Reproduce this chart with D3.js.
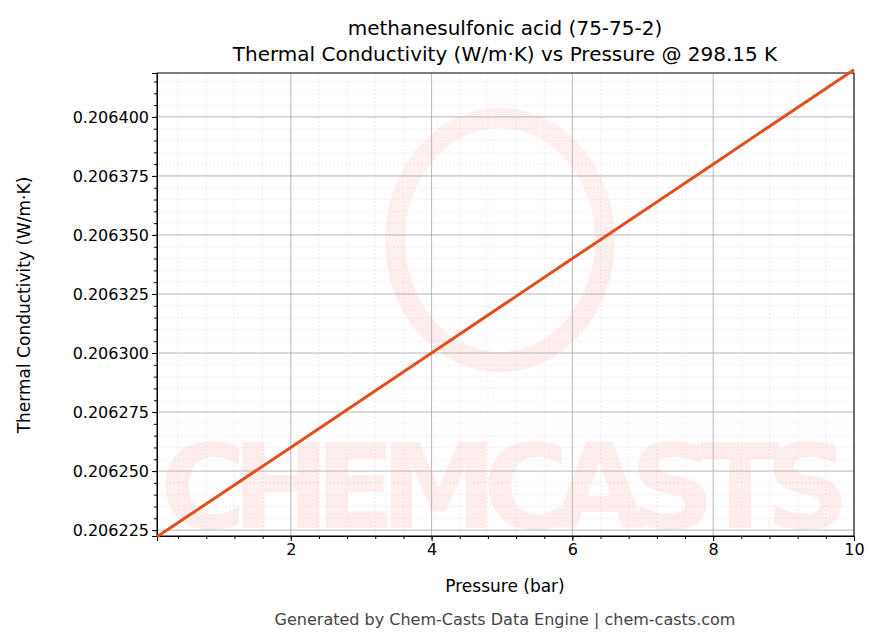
<!DOCTYPE html><html><head><meta charset="utf-8"><script src="https://cdn.jsdelivr.net/npm/d3@7"></script>
<style>body{margin:0;background:#fff}text{font-family:"DejaVu Sans",sans-serif}</style></head><body>
<script>
const pressure=[0.1,2,4,6,8,10];
const conductivity=[0.2062222,0.206260,0.206300,0.206340,0.206380,0.206420];
const xTicks=[2,4,6,8,10];
const yTicks=[0.206225,0.20625,0.206275,0.2063,0.206325,0.20635,0.206375,0.2064];
const W=883,H=644,L=157,R=854,T=73,B=536;
const svg=d3.select("body").append("svg").attr("width",W).attr("height",H);
const x=d3.scaleLinear().domain([0.1,10]).range([L,R]);
const y=d3.scaleLinear().domain([0.2062225,0.2064186]).range([B,T]);
const wm=svg.append("g").attr("opacity",0.08);
wm.append("ellipse").attr("cx",500).attr("cy",240).attr("rx",105).attr("ry",122).attr("fill","none").attr("stroke","#f03a2a").attr("stroke-width",20);
wm.append("text").attr("x",505).attr("y",528).attr("text-anchor","middle").attr("font-size",118).attr("font-weight","bold").attr("fill","#f03a2a").attr("textLength",690).text("CHEMCASTS");
const xm=d3.range(0.4,10.01,0.4), ym=d3.range(0.206225,0.2064186,0.000005);
svg.append("g").selectAll("line").data(xm).join("line").attr("x1",d=>x(d)).attr("x2",d=>x(d)).attr("y1",T).attr("y2",B).attr("stroke","#ddd").attr("stroke-width",0.5).attr("stroke-dasharray","2,2");
svg.append("g").selectAll("line").data(ym).join("line").attr("y1",d=>y(d)).attr("y2",d=>y(d)).attr("x1",L).attr("x2",R).attr("stroke","#ddd").attr("stroke-width",0.5).attr("stroke-dasharray","2,2");
svg.append("g").selectAll("line").data(xTicks).join("line").attr("x1",d=>x(d)).attr("x2",d=>x(d)).attr("y1",T).attr("y2",B).attr("stroke","#aaa").attr("stroke-width",0.8);
svg.append("g").selectAll("line").data(yTicks).join("line").attr("y1",d=>y(d)).attr("y2",d=>y(d)).attr("x1",L).attr("x2",R).attr("stroke","#aaa").attr("stroke-width",0.8);
const mx=svg.append("g").attr("transform",`translate(0,${B})`).call(d3.axisBottom(x).tickValues(xm).tickFormat("").tickSize(3));
mx.select(".domain").remove(); mx.selectAll("text").remove();
const my=svg.append("g").attr("transform",`translate(${L},0)`).call(d3.axisLeft(y).tickValues(ym).tickFormat("").tickSize(3));
my.select(".domain").remove(); my.selectAll("text").remove();
svg.append("g").attr("transform",`translate(0,${B})`).call(d3.axisBottom(x).tickValues(xTicks).tickFormat(d3.format("d")).tickSize(5));
svg.append("g").attr("transform",`translate(${L},0)`).call(d3.axisLeft(y).tickValues(yTicks).tickFormat(d3.format(".6f")).tickSize(5));
svg.selectAll(".tick text").attr("font-size",16).attr("fill","#000").style("font-family","DejaVu Sans");
svg.append("rect").attr("x",L).attr("y",T).attr("width",R-L).attr("height",B-T).attr("fill","none").attr("stroke","#000");
svg.append("path").datum(pressure.map((p,i)=>[p,conductivity[i]])).attr("d",d3.line().x(d=>x(d[0])).y(d=>y(d[1]))).attr("fill","none").attr("stroke","#e0501e").attr("stroke-width",3);
svg.append("text").attr("x",505).attr("y",35).attr("text-anchor","middle").attr("font-size",20).text("methanesulfonic acid (75-75-2)");
svg.append("text").attr("x",505).attr("y",61).attr("text-anchor","middle").attr("font-size",20).text("Thermal Conductivity (W/m·K) vs Pressure @ 298.15 K");
svg.append("text").attr("x",505).attr("y",592).attr("text-anchor","middle").attr("font-size",17).text("Pressure (bar)");
svg.append("text").attr("transform","translate(30,305) rotate(-90)").attr("text-anchor","middle").attr("font-size",17).text("Thermal Conductivity (W/m·K)");
svg.append("text").attr("x",505).attr("y",625).attr("text-anchor","middle").attr("font-size",16).attr("fill","#444").text("Generated by Chem-Casts Data Engine | chem-casts.com");
</script></body></html>
